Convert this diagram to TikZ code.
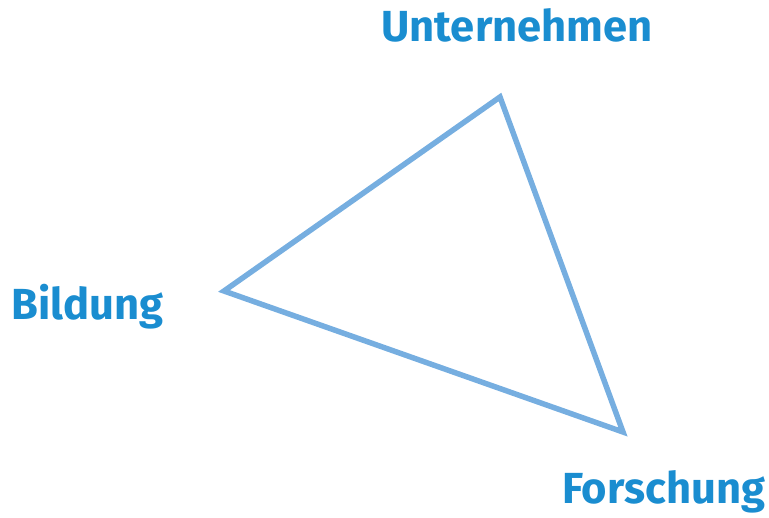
\documentclass[tikz,border=0pt]{standalone}
\usepackage{fontspec}
\setmainfont{Fira Sans}
\definecolor{labelblue}{HTML}{1A8DD0}
\definecolor{edgeblue}{HTML}{76AEE0}
\tikzset{
    corner/.style = {font = \fontsize{43.5}{47}\selectfont\bfseries, text = labelblue, inner sep = 0pt},
    edge/.style = {draw = edgeblue, line width = 5.5pt, line join = miter}
}
\begin{document}
\begin{tikzpicture}[x = 1pt, y = -1pt]
    \useasboundingbox (0, 0) rectangle (769, 518);
    % the three corners of the triangle
    \coordinate (top) at (500, 97);
    \coordinate (left) at (224, 291);
    \coordinate (right) at (623, 432);
    \draw[edge] (top) -- (left) -- (right) -- cycle;
    % labels
    \node[corner, anchor = base] (unternehmen) at (517, 42) {Unternehmen};
    \node[corner, anchor = base west] (bildung) at (11, 320) {Bildung};
    \node[corner, anchor = base west] (forschung) at (562, 504) {Forschung};
\end{tikzpicture}
\end{document}
